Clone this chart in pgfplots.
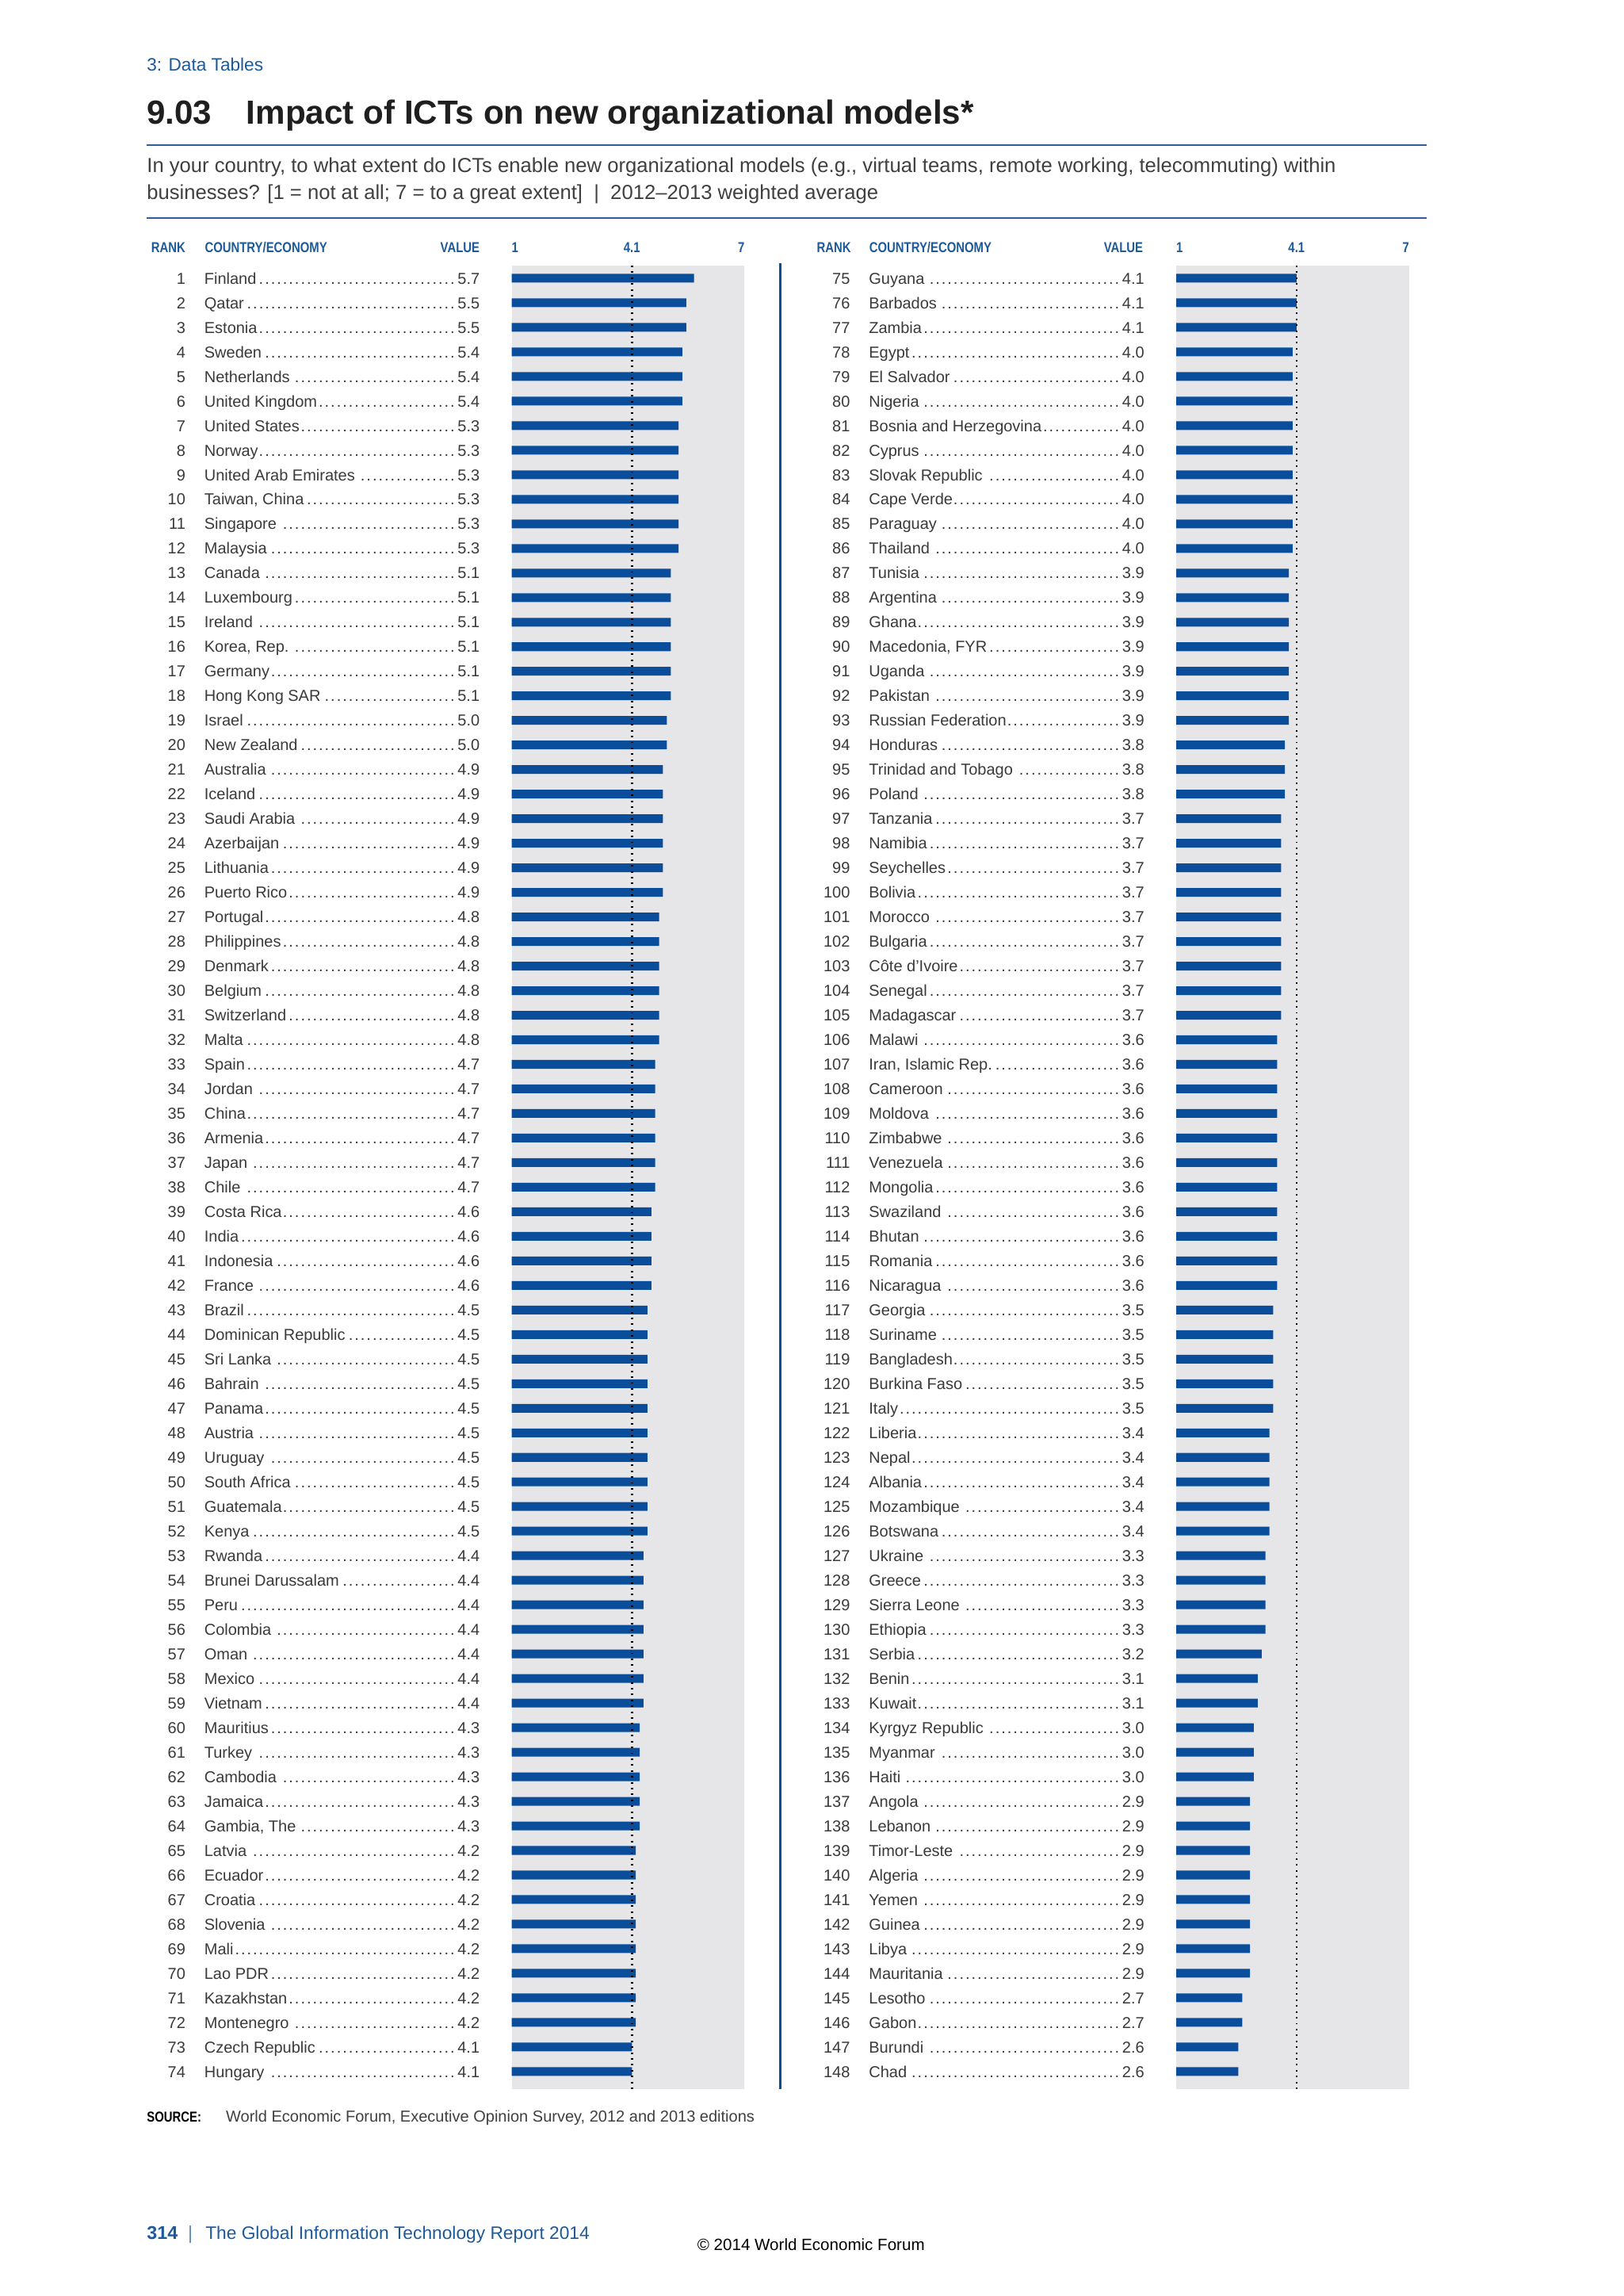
\documentclass[border=0pt]{standalone}
\usepackage{pgfplots}
\pgfplotsset{compat=1.18}
\usepackage{pgfplotstable}
\usepackage{fontspec}
\setmainfont{Liberation Sans}
\newfontfamily\condfont[FakeStretch=0.82]{Liberation Sans}

\definecolor{wefblue}{HTML}{1D5A9A}
\definecolor{barblue}{HTML}{0A4E9B}
\definecolor{ruleblue}{HTML}{2A5F9C}
\definecolor{panelgray}{HTML}{E6E6E9}
\definecolor{rowtext}{HTML}{3A3A3A}

\newdimen\pxu
\pxu=0.18936mm

\pgfplotstableread[col sep=semicolon]{
rank;country;value
1;Finland;5.7
2;Qatar;5.5
3;Estonia;5.5
4;Sweden;5.4
5;Netherlands;5.4
6;United Kingdom;5.4
7;United States;5.3
8;Norway;5.3
9;United Arab Emirates;5.3
10;Taiwan, China;5.3
11;Singapore;5.3
12;Malaysia;5.3
13;Canada;5.1
14;Luxembourg;5.1
15;Ireland;5.1
16;Korea, Rep.;5.1
17;Germany;5.1
18;Hong Kong SAR;5.1
19;Israel;5.0
20;New Zealand;5.0
21;Australia;4.9
22;Iceland;4.9
23;Saudi Arabia;4.9
24;Azerbaijan;4.9
25;Lithuania;4.9
26;Puerto Rico;4.9
27;Portugal;4.8
28;Philippines;4.8
29;Denmark;4.8
30;Belgium;4.8
31;Switzerland;4.8
32;Malta;4.8
33;Spain;4.7
34;Jordan;4.7
35;China;4.7
36;Armenia;4.7
37;Japan;4.7
38;Chile;4.7
39;Costa Rica;4.6
40;India;4.6
41;Indonesia;4.6
42;France;4.6
43;Brazil;4.5
44;Dominican Republic;4.5
45;Sri Lanka;4.5
46;Bahrain;4.5
47;Panama;4.5
48;Austria;4.5
49;Uruguay;4.5
50;South Africa;4.5
51;Guatemala;4.5
52;Kenya;4.5
53;Rwanda;4.4
54;Brunei Darussalam;4.4
55;Peru;4.4
56;Colombia;4.4
57;Oman;4.4
58;Mexico;4.4
59;Vietnam;4.4
60;Mauritius;4.3
61;Turkey;4.3
62;Cambodia;4.3
63;Jamaica;4.3
64;Gambia, The;4.3
65;Latvia;4.2
66;Ecuador;4.2
67;Croatia;4.2
68;Slovenia;4.2
69;Mali;4.2
70;Lao PDR;4.2
71;Kazakhstan;4.2
72;Montenegro;4.2
73;Czech Republic;4.1
74;Hungary;4.1
}\lefttable

\pgfplotstableread[col sep=semicolon]{
rank;country;value
75;Guyana;4.1
76;Barbados;4.1
77;Zambia;4.1
78;Egypt;4.0
79;El Salvador;4.0
80;Nigeria;4.0
81;Bosnia and Herzegovina;4.0
82;Cyprus;4.0
83;Slovak Republic;4.0
84;Cape Verde;4.0
85;Paraguay;4.0
86;Thailand;4.0
87;Tunisia;3.9
88;Argentina;3.9
89;Ghana;3.9
90;Macedonia, FYR;3.9
91;Uganda;3.9
92;Pakistan;3.9
93;Russian Federation;3.9
94;Honduras;3.8
95;Trinidad and Tobago;3.8
96;Poland;3.8
97;Tanzania;3.7
98;Namibia;3.7
99;Seychelles;3.7
100;Bolivia;3.7
101;Morocco;3.7
102;Bulgaria;3.7
103;Côte d'Ivoire;3.7
104;Senegal;3.7
105;Madagascar;3.7
106;Malawi;3.6
107;Iran, Islamic Rep.;3.6
108;Cameroon;3.6
109;Moldova;3.6
110;Zimbabwe;3.6
111;Venezuela;3.6
112;Mongolia;3.6
113;Swaziland;3.6
114;Bhutan;3.6
115;Romania;3.6
116;Nicaragua;3.6
117;Georgia;3.5
118;Suriname;3.5
119;Bangladesh;3.5
120;Burkina Faso;3.5
121;Italy;3.5
122;Liberia;3.4
123;Nepal;3.4
124;Albania;3.4
125;Mozambique;3.4
126;Botswana;3.4
127;Ukraine;3.3
128;Greece;3.3
129;Sierra Leone;3.3
130;Ethiopia;3.3
131;Serbia;3.2
132;Benin;3.1
133;Kuwait;3.1
134;Kyrgyz Republic;3.0
135;Myanmar;3.0
136;Haiti;3.0
137;Angola;2.9
138;Lebanon;2.9
139;Timor-Leste;2.9
140;Algeria;2.9
141;Yemen;2.9
142;Guinea;2.9
143;Libya;2.9
144;Mauritania;2.9
145;Lesotho;2.7
146;Gabon;2.7
147;Burundi;2.6
148;Chad;2.6
}\righttable

% rank, country with dot leaders, value -- one tick label per row
\newcommand{\rowlabel}[1]{%
  \pgfplotstablegetelem{\ticknum}{rank}\of{#1}\let\rk\pgfplotsretval
  \pgfplotstablegetelem{\ticknum}{country}\of{#1}\let\cn\pgfplotsretval
  \pgfplotstablegetelem{\ticknum}{value}\of{#1}\let\vl\pgfplotsretval
  \hbox{\hbox to 0pt{\hss\rk}\hskip 13\pxu
    \hbox to 188\pxu{\cn\leaders\hbox to 2.2pt{\hss.\hss}\hfill\vl}}}

\newcommand{\hdr}{\condfont\bfseries\fontsize{5.3}{6}\selectfont}

\pgfplotsset{panel/.style={
  scale only axis, width=30.12mm, height=235.75mm, anchor=north west,
  xmin=1, xmax=7, y dir=reverse,
  axis background/.style={fill=panelgray},
  axis line style={draw=none}, major tick length=0pt,
  xtick={1,4.1,7}, xticklabels={\makebox[0pt][l]{1},4.1,\makebox[0pt][r]{7}},
  xticklabel pos=upper,
  xticklabel style={anchor=base, inner sep=0pt, yshift=1.685mm, font=\hdr, text=wefblue},
  yticklabel style={anchor=east, inner sep=0pt, xshift=-4.07mm, text height=4.17pt,
    text depth=0pt, font=\fontsize{5.83}{7}\selectfont, text=rowtext},
}}

\tikzset{px/.style={x=0.18936mm, y=-0.18936mm},
  meanline/.style={black, line width=0.26mm, dash pattern=on 0.2mm off 0.56mm}}

\begin{document}
\begin{tikzpicture}
\begin{scope}[px]
\fill[white] (0,0) rectangle (1109,1568);

% page head
\node[anchor=base west, inner sep=0pt, text=wefblue, font=\fontsize{6.6}{8}\selectfont] at (100,48.4) {3: Data Tables};
\node[anchor=base west, inner sep=0pt, text=black!88, font=\bfseries\fontsize{12.3}{15}\selectfont] at (100,84.7) {9.03};
\node[anchor=base west, inner sep=0pt, text=black!88, font=\bfseries\fontsize{12.3}{15}\selectfont] at (168,84.7) {Impact of ICTs on new organizational models*};
\draw[ruleblue, line width=0.21mm] (100,99.3) -- (974.7,99.3);
\node[anchor=base west, inner sep=0pt, text=black!75, font=\fontsize{7.48}{9}\selectfont] at (100,118) {In your country, to what extent do ICTs enable new organizational models (e.g., virtual teams, remote working, telecommuting) within};
\node[anchor=base west, inner sep=0pt, text=black!75, font=\fontsize{7.48}{9}\selectfont] at (100,136) {businesses? [1 = not at all; 7 = to a great extent] \ | \ 2012–2013 weighted average};
\draw[ruleblue, line width=0.21mm] (100,148.9) -- (974.7,148.9);

% column heads
\foreach \xr/\xc/\xv in {103/139.6/328, 557.6/593.5/781.2}{
  \node[anchor=base west, inner sep=0pt, text=wefblue, font=\hdr] at (\xr,172.5) {RANK};
  \node[anchor=base west, inner sep=0pt, text=wefblue, font=\hdr] at (\xc,172.5) {COUNTRY/ECONOMY};
  \node[anchor=base east, inner sep=0pt, text=wefblue, font=\hdr] at (\xv,172.5) {VALUE};
}

\draw[barblue, line width=0.34mm] (533,179.6) -- (533,1426.4);

% source and footer
\node[anchor=base west, inner sep=0pt, text=black, font=\hdr] at (100,1449) {SOURCE:};
\node[anchor=base west, inner sep=0pt, text=black!75, font=\fontsize{5.84}{7}\selectfont] at (154,1449) {World Economic Forum, Executive Opinion Survey, 2012 and 2013 editions};
\node[anchor=base west, inner sep=0pt, text=wefblue, font=\bfseries\fontsize{6.8}{8}\selectfont] at (100,1529.4) {314};
\node[anchor=base west, inner sep=0pt, text=wefblue!70, font=\fontsize{6.8}{8}\selectfont] at (128,1529.4) {|};
\node[anchor=base west, inner sep=0pt, text=wefblue, font=\fontsize{6.64}{8}\selectfont] at (140,1529.4) {The Global Information Technology Report 2014};
\node[anchor=base west, inner sep=0pt, text=black, font=\fontsize{6.0}{7}\selectfont] at (476,1537) {© 2014 World Economic Forum};
\end{scope}

% left panel: ranks 1-74 (349.5px, 181.4px)
\begin{axis}[panel, at={(66.18mm,-34.35mm)}, ymin=0.487, ymax=74.70,
  ytick={1,...,74}, yticklabel={\rowlabel{\lefttable}}]
\addplot[xbar, bar width=1.13mm, fill=barblue, draw=none] table[x=value, y=rank] {\lefttable};
\draw[meanline] (axis cs:4.1,0.487) -- (axis cs:4.1,74.70);
\end{axis}

% right panel: ranks 75-148 (803.5px, 181.4px)
\begin{axis}[panel, at={(152.15mm,-34.35mm)}, ymin=74.487, ymax=148.70,
  ytick={75,...,148}, yticklabel={\rowlabel{\righttable}}]
\addplot[xbar, bar width=1.13mm, fill=barblue, draw=none] table[x=value, y=rank] {\righttable};
\draw[meanline] (axis cs:4.1,74.487) -- (axis cs:4.1,148.70);
\end{axis}
\end{tikzpicture}
\end{document}
